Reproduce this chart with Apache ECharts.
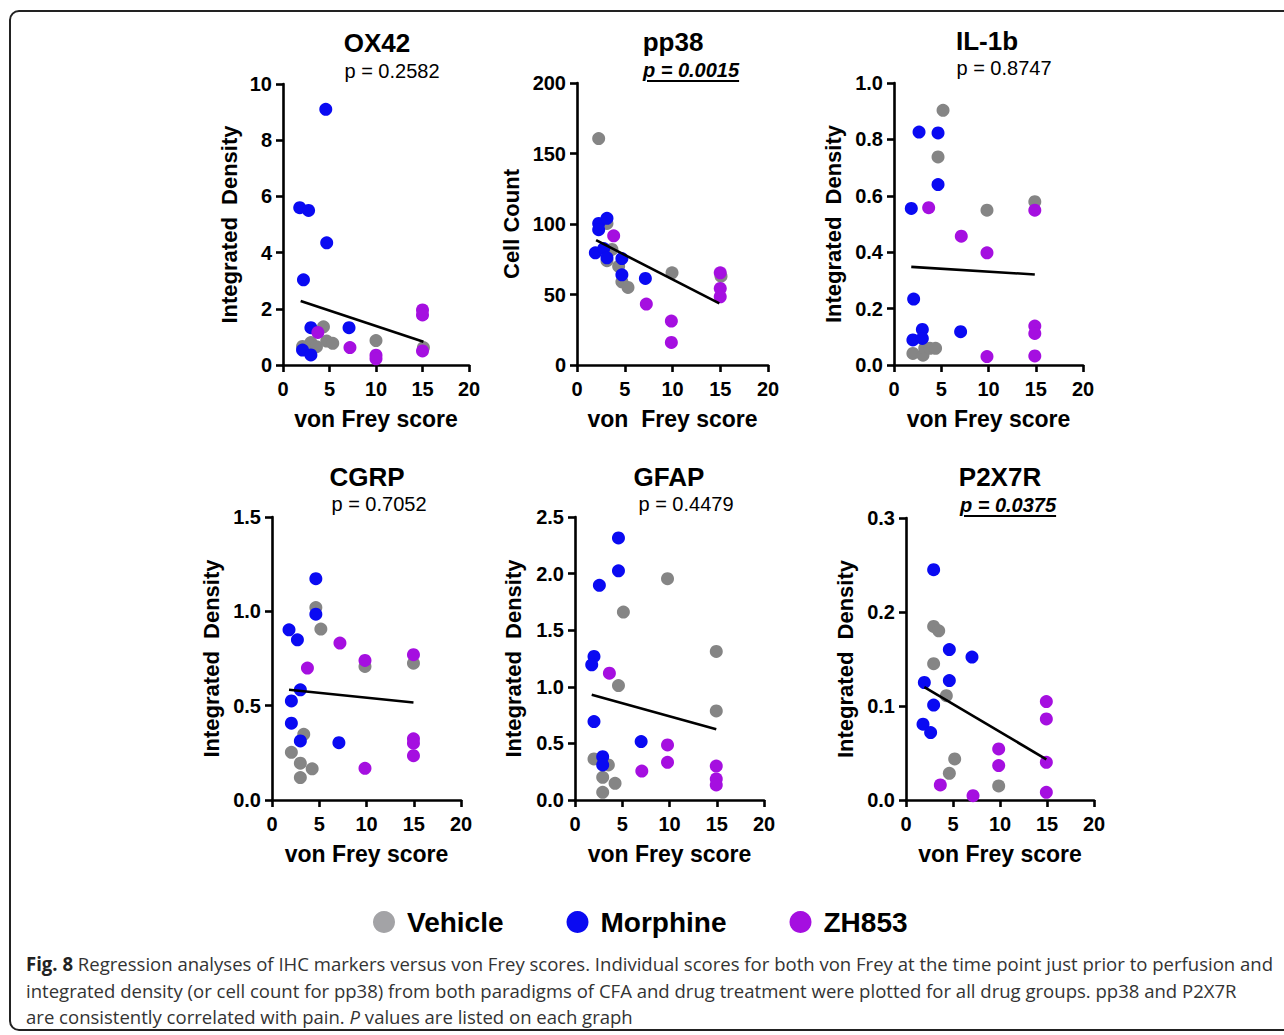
<!DOCTYPE html>
<html>
<head>
<meta charset="utf-8">
<script src="https://cdn.jsdelivr.net/npm/echarts@6/dist/echarts.min.js"></script>
<style>
  html, body { margin:0; padding:0; background:#fff; }
  #wrap { position:relative; width:1284px; height:1035px; overflow:hidden; }
  #frame { position:absolute; left:9px; top:10px; width:1300px; height:1021px; border:2px solid #222; border-radius:10px; box-sizing:border-box; }
  #chart { position:absolute; left:0; top:0; width:1284px; height:1035px; }
  .ttl { position:absolute; transform:translate(-50%,-50%); font-family:"Liberation Sans", Arial, sans-serif; font-weight:bold; font-size:26px; color:#000; white-space:nowrap; line-height:28px; }
  .pv { position:absolute; transform:translate(-50%,-50%); font-family:"Liberation Sans", Arial, sans-serif; font-size:20px; color:#000; white-space:nowrap; line-height:22px; }
  .pv.sig { font-weight:bold; font-style:italic; text-decoration:underline; text-decoration-thickness:2px; text-underline-offset:3px; }
  .cap { position:absolute; left:26px; font-family:"Open Sans", sans-serif; font-size:19px; color:#333; white-space:nowrap; transform-origin:0 50%; line-height:24px; }
</style>
</head>
<body>
<div id="wrap">
  <div id="frame"></div>
  <div id="chart"></div>
</div>
<script>
// ---------------- DATA ----------------
const groups = ['Vehicle', 'Morphine', 'ZH853'];
const panelTitles = ['OX42', 'pp38', 'IL-1b', 'CGRP', 'GFAP', 'P2X7R'];
const pValues = ['p = 0.2582', 'p = 0.0015', 'p = 0.8747', 'p = 0.7052', 'p = 0.4479', 'p = 0.0375'];
const pSignificant = [false, true, false, false, false, true];
const yAxisTitles = ['Integrated  Density', 'Cell Count', 'Integrated  Density', 'Integrated  Density', 'Integrated  Density', 'Integrated  Density'];
const xAxisTitles = ['von Frey score', 'von  Frey score', 'von Frey score', 'von Frey score', 'von Frey score', 'von Frey score'];
const xTicks = [0, 5, 10, 15, 20];

const ox42_yTicks = [0, 2, 4, 6, 8, 10];
const ox42_vehicle = [[2.1,0.66],[3.0,0.8],[4.35,1.36],[3.6,0.65],[4.7,0.85],[5.35,0.77],[10.0,0.87],[15.1,0.62]];
const ox42_morphine = [[4.6,9.1],[1.8,5.6],[2.75,5.5],[4.7,4.35],[2.2,3.03],[3.0,1.33],[7.1,1.33],[2.1,0.53],[3.0,0.36]];
const ox42_zh853 = [[3.75,1.16],[7.2,0.62],[10.0,0.35],[10.0,0.22],[15.0,1.96],[15.0,1.78],[15.0,0.5]];
const ox42_fit = [[1.9,2.28],[15.1,0.83]];

const pp38_yTicks = [0, 50, 100, 150, 200];
const pp38_vehicle = [[2.27,160.6],[3.14,100.4],[3.66,82],[3.14,74],[4.36,70],[4.7,59],[5.34,55],[9.95,65.4],[15.08,63]];
const pp38_morphine = [[2.27,100.4],[2.27,96],[3.14,104],[1.92,79.6],[2.8,82.6],[3.14,76],[4.7,75.5],[4.7,64],[7.16,61.4]];
const pp38_zh853 = [[3.84,91.6],[7.26,43.2],[9.88,31.2],[9.88,16],[15.0,65.4],[15.0,54.3],[15.0,48.4]];
const pp38_fit = [[2.0,88.5],[14.9,43.7]];

const il1b_yTicks = [0, 0.2, 0.4, 0.6, 0.8, 1.0];
const il1b_vehicle = [[5.19,0.903],[4.66,0.738],[14.9,0.579],[9.84,0.549],[2.0,0.041],[3.07,0.035],[3.25,0.059],[3.8,0.059],[4.4,0.059]];
const il1b_morphine = [[2.65,0.826],[4.66,0.823],[4.66,0.64],[1.83,0.555],[2.08,0.234],[2.0,0.089],[3.0,0.126],[3.0,0.094],[7.05,0.118]];
const il1b_zh853 = [[3.67,0.558],[7.12,0.457],[9.84,0.398],[9.84,0.03],[14.9,0.549],[14.9,0.138],[14.9,0.112],[14.9,0.032]];
const il1b_fit = [[1.83,0.348],[14.9,0.321]];

const cgrp_yTicks = [0, 0.5, 1.0, 1.5];
const cgrp_vehicle = [[4.64,1.02],[5.17,0.906],[9.84,0.708],[14.97,0.725],[3.36,0.348],[2.05,0.253],[3.0,0.195],[3.0,0.119],[4.25,0.165]];
const cgrp_morphine = [[4.64,1.173],[4.64,0.985],[1.8,0.902],[2.69,0.849],[3.0,0.584],[2.05,0.525],[2.05,0.407],[3.0,0.313],[7.08,0.304]];
const cgrp_zh853 = [[3.75,0.699],[7.19,0.832],[9.84,0.74],[9.84,0.168],[14.97,0.77],[14.97,0.324],[14.97,0.301],[14.97,0.235]];
const cgrp_fit = [[1.8,0.584],[14.97,0.517]];

const gfap_yTicks = [0, 0.5, 1.0, 1.5, 2.0, 2.5];
const gfap_vehicle = [[9.79,1.955],[5.12,1.66],[14.95,1.312],[4.6,1.011],[14.95,0.787],[2.01,0.363],[3.53,0.31],[2.93,0.2],[4.24,0.147],[2.93,0.068]];
const gfap_morphine = [[4.6,2.315],[4.6,2.025],[2.58,1.896],[2.01,1.268],[1.77,1.194],[2.01,0.693],[2.93,0.383],[2.93,0.31],[7.0,0.516]];
const gfap_zh853 = [[3.64,1.12],[7.07,0.256],[9.79,0.486],[9.79,0.333],[14.95,0.3],[14.95,0.186],[14.95,0.133]];
const gfap_fit = [[1.77,0.929],[14.95,0.625]];

const p2x7r_yTicks = [0, 0.1, 0.2, 0.3];
const p2x7r_vehicle = [[2.94,0.1846],[3.48,0.18],[2.94,0.145],[4.29,0.111],[5.18,0.0437],[4.61,0.0284],[9.86,0.0149]];
const p2x7r_morphine = [[2.94,0.245],[4.61,0.16],[7.02,0.152],[1.95,0.125],[4.61,0.127],[2.94,0.101],[1.81,0.0806],[2.62,0.0717]];
const p2x7r_zh853 = [[3.65,0.016],[7.13,0.0046],[9.86,0.0543],[9.86,0.0366],[14.93,0.1047],[14.93,0.0863],[14.93,0.0401],[14.93,0.0082]];
const p2x7r_fit = [[1.95,0.12],[14.93,0.0433]];

const captionLines = [
  ['Fig. 8', ' Regression analyses of IHC markers versus von Frey scores. Individual scores for both von Frey at the time point just prior to perfusion and'],
  ['', 'integrated density (or cell count for pp38) from both paradigms of CFA and drug treatment were plotted for all drug groups. pp38 and P2X7R'],
  ['', 'are consistently correlated with pain. <i>P</i> values are listed on each graph']
];

// ---------------- LAYOUT / STYLE ----------------
const panels = [
  { ticks: ox42_yTicks,  sets: [ox42_vehicle, ox42_morphine, ox42_zh853],   fit: ox42_fit,  dec: 0 },
  { ticks: pp38_yTicks,  sets: [pp38_vehicle, pp38_morphine, pp38_zh853],   fit: pp38_fit,  dec: 0 },
  { ticks: il1b_yTicks,  sets: [il1b_vehicle, il1b_morphine, il1b_zh853],   fit: il1b_fit,  dec: 1 },
  { ticks: cgrp_yTicks,  sets: [cgrp_vehicle, cgrp_morphine, cgrp_zh853],   fit: cgrp_fit,  dec: 1 },
  { ticks: gfap_yTicks,  sets: [gfap_vehicle, gfap_morphine, gfap_zh853],   fit: gfap_fit,  dec: 1 },
  { ticks: p2x7r_yTicks, sets: [p2x7r_vehicle, p2x7r_morphine, p2x7r_zh853], fit: p2x7r_fit, dec: 1 }
];
const gridBoxes = [
  { left: 283, top: 84,  width: 186, height: 281 },
  { left: 577, top: 83,  width: 191, height: 282 },
  { left: 894, top: 83,  width: 189, height: 282 },
  { left: 272, top: 517, width: 189, height: 283 },
  { left: 575, top: 517, width: 189, height: 283 },
  { left: 906, top: 518, width: 188, height: 282 }
];
const yNameGaps = [43, 55, 50, 50, 51, 50];
const titlePos = [[377,43],[673,42],[987,41],[367,477],[669,477],[1000,477]];
const pPos = [[392,71],[691,70],[1004,68],[379,504],[686,504],[1008,505]];
const pointColors = ['#858585', '#0a0af2', '#a50fe0'];
const legendColors = ['#a3a3a6', '#0a0af2', '#a50fe0'];
const FONT = '"Liberation Sans", Arial, sans-serif';

const grid = [], xAxis = [], yAxis = [], series = [];
panels.forEach((p, i) => {
  grid.push(Object.assign({ containLabel: false }, gridBoxes[i]));
  xAxis.push({
    gridIndex: i, type: 'value', min: xTicks[0], max: xTicks[xTicks.length - 1], interval: xTicks[1] - xTicks[0],
    axisLine: { lineStyle: { color: '#000', width: 2.6 } },
    axisTick: { show: true, length: 7, lineStyle: { color: '#000', width: 2.6 } },
    axisLabel: { color: '#000', fontSize: 20, fontWeight: 'bold', fontFamily: FONT, margin: 14 },
    splitLine: { show: false },
    name: xAxisTitles[i], nameLocation: 'middle', nameGap: 42,
    nameTextStyle: { color: '#000', fontSize: 23, fontWeight: 'bold', fontFamily: FONT }
  });
  const t = p.ticks;
  yAxis.push({
    gridIndex: i, type: 'value', min: t[0], max: t[t.length - 1], interval: t[1] - t[0],
    axisLine: { show: true, lineStyle: { color: '#000', width: 2.6 } },
    axisTick: { show: true, length: 7, lineStyle: { color: '#000', width: 2.6 } },
    axisLabel: { color: '#000', fontSize: 20, fontWeight: 'bold', fontFamily: FONT, margin: 11,
                 formatter: (v) => Number(v).toFixed(p.dec) },
    splitLine: { show: false },
    name: yAxisTitles[i], nameLocation: 'middle', nameGap: yNameGaps[i], nameRotate: 90,
    nameTextStyle: { color: '#000', fontSize: 22, fontWeight: 'bold', fontFamily: FONT }
  });
  p.sets.forEach((d, g) => {
    series.push({
      name: groups[g], type: 'scatter', xAxisIndex: i, yAxisIndex: i, data: d,
      symbol: 'circle', symbolSize: 13, itemStyle: { color: pointColors[g], opacity: 1 },
      emphasis: { disabled: true }, z: 3
    });
  });
  series.push({
    type: 'line', xAxisIndex: i, yAxisIndex: i, data: p.fit, showSymbol: false, symbol: 'none',
    lineStyle: { color: '#000', width: 2.6 }, z: 4, silent: true
  });
});

const chart = echarts.init(document.getElementById('chart'), null, { renderer: 'svg' });
chart.setOption({
  animation: false,
  backgroundColor: 'transparent',
  grid, xAxis, yAxis, series,
  legend: {
    left: 373, top: 908, padding: 0, orient: 'horizontal', itemWidth: 22, itemHeight: 22, itemGap: 63,
    icon: 'circle', selectedMode: false,
    textStyle: { color: '#000', fontSize: 28, fontWeight: 'bold', fontFamily: FONT, padding: [0, 0, 0, 7] },
    data: groups.map((n, k) => ({ name: n, itemStyle: { color: legendColors[k] } }))
  }
});

// ---------------- TEXT OVERLAYS ----------------
const wrap = document.getElementById('wrap');
panelTitles.forEach((t, i) => {
  const d = document.createElement('div');
  d.className = 'ttl'; d.textContent = t;
  d.style.left = titlePos[i][0] + 'px'; d.style.top = titlePos[i][1] + 'px';
  wrap.appendChild(d);
  const p = document.createElement('div');
  p.className = 'pv' + (pSignificant[i] ? ' sig' : ''); p.textContent = pValues[i];
  p.style.left = pPos[i][0] + 'px'; p.style.top = pPos[i][1] + 'px';
  wrap.appendChild(p);
});
const capTops = [952, 979, 1005];
const capEls = captionLines.map((ln, k) => {
  const d = document.createElement('div');
  d.className = 'cap';
  d.style.top = capTops[k] + 'px';
  d.innerHTML = (ln[0] ? '<b style="color:#222">' + ln[0] + '</b>' : '') + ln[1];
  wrap.appendChild(d);
  return d;
});
const targetW = 1273 - 26;
const s = targetW / capEls[0].getBoundingClientRect().width;
capEls.forEach(d => { d.style.transform = 'scaleX(' + s + ')'; });
</script>
</body>
</html>
